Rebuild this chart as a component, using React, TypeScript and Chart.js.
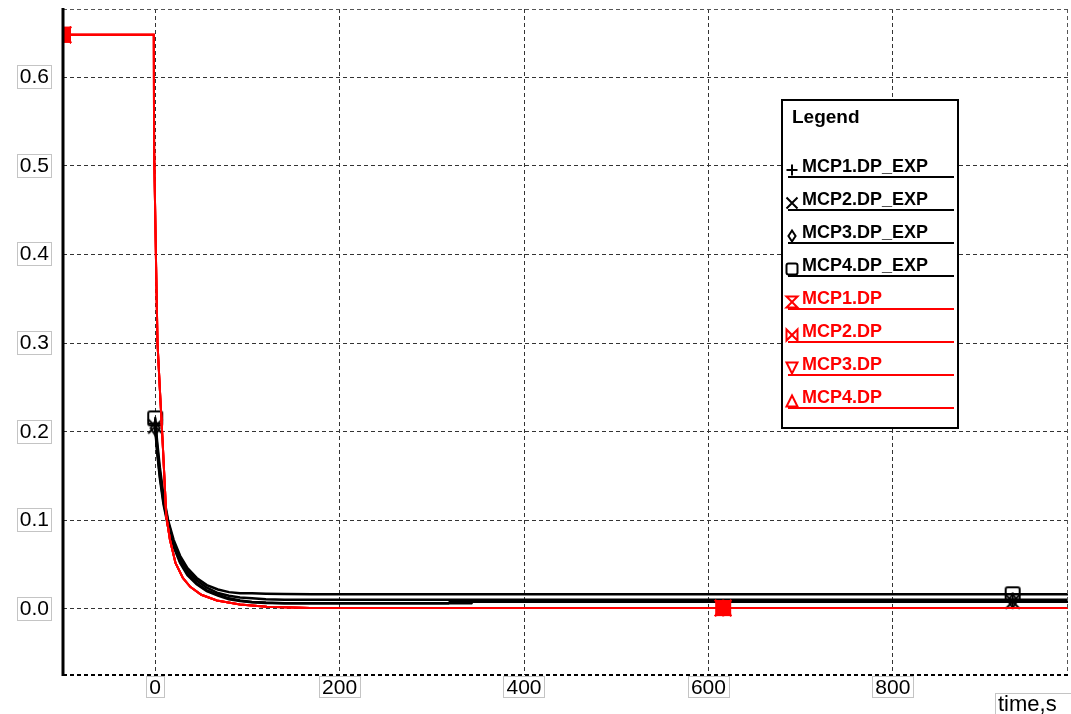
import React, { useEffect, useRef } from 'react';
import { Chart, registerables } from 'chart.js';

Chart.register(...registerables);

// ---------- data ----------
const xTickValues = [0, 200, 400, 600, 800];
const xTickLabels = ['0', '200', '400', '600', '800'];
const yTickValues = [0, 0.1, 0.2, 0.3, 0.4, 0.5, 0.6];
const yTickLabels = ['0.0', '0.1', '0.2', '0.3', '0.4', '0.5', '0.6'];
const xAxisTitle = 'time,s';
const legendTitle = 'Legend';

const seriesNames = [
  'MCP1.DP_EXP', 'MCP2.DP_EXP', 'MCP3.DP_EXP', 'MCP4.DP_EXP',
  'MCP1.DP', 'MCP2.DP', 'MCP3.DP', 'MCP4.DP',
];

const expTime = [0, 2, 5, 9, 14, 20, 27, 35, 45, 56, 68, 80, 92, 105, 120, 140, 170, 250, 318, 320, 343, 345, 583, 930, 990];
const mcp1DpExp = [0.209, 0.185, 0.155, 0.125, 0.098, 0.075, 0.057, 0.043, 0.032, 0.024, 0.018, 0.015, 0.013, 0.012, 0.011, 0.0105, 0.0105, 0.0105, 0.0105, 0.0105, 0.0105, 0.0105, 0.0105, 0.0105, 0.0105];
const mcp2DpExp = [0.206, 0.181, 0.151, 0.121, 0.095, 0.072, 0.054, 0.040, 0.029, 0.021, 0.016, 0.012, 0.0095, 0.008, 0.0072, 0.0066, 0.0064, 0.0064, 0.0064, 0.0082, 0.0082, 0.0082, 0.0082, 0.0082, 0.0082];
const mcp3DpExp = [0.204, 0.178, 0.148, 0.118, 0.093, 0.070, 0.052, 0.038, 0.028, 0.020, 0.015, 0.011, 0.009, 0.0075, 0.0068, 0.0064, 0.0064, 0.0064, 0.0064, 0.0064, 0.0064, 0.0092, 0.0092, 0.0092, 0.0092];
const mcp4DpExp = [0.215, 0.19, 0.16, 0.128, 0.1, 0.078, 0.06, 0.046, 0.035, 0.027, 0.022, 0.019, 0.0177, 0.0177, 0.0172, 0.0168, 0.0166, 0.0166, 0.0166, 0.0166, 0.0166, 0.0166, 0.0166, 0.0166, 0.0166];

const simTime = [-100, -1.5, -1.2, 1, 2.5, 5.5, 8, 12, 16, 22, 30, 38, 50, 67, 92, 121, 168, 616, 990];
const mcp1Dp = [0.648, 0.648, 0.52, 0.386, 0.30, 0.239, 0.19, 0.105, 0.078, 0.052, 0.035, 0.025, 0.016, 0.0095, 0.005, 0.0026, 0.001, 0.001, 0.001];
const mcp2Dp = [0.648, 0.648, 0.52, 0.386, 0.30, 0.239, 0.19, 0.105, 0.078, 0.052, 0.035, 0.025, 0.016, 0.0096, 0.005, 0.0026, 0.0011, 0.0011, 0.0011];
const mcp3Dp = [0.648, 0.648, 0.52, 0.386, 0.30, 0.239, 0.19, 0.105, 0.078, 0.052, 0.035, 0.025, 0.016, 0.0094, 0.005, 0.0025, 0.001, 0.001, 0.001];
const mcp4Dp = [0.648, 0.648, 0.52, 0.386, 0.30, 0.239, 0.19, 0.105, 0.078, 0.052, 0.035, 0.025, 0.016, 0.0095, 0.0051, 0.0026, 0.0012, 0.0012, 0.0012];

const expMarkerTimes = [0, 930];
const simMarkerTimes = [-100, 616];

// ---------- styles ----------
const FONT = '"Liberation Sans", Arial, sans-serif';
const seriesColors = ['#000000', '#000000', '#000000', '#000000', '#ff0000', '#ff0000', '#ff0000', '#ff0000'];
type Sym = 'plus' | 'cross' | 'diamond' | 'square' | 'hourglass' | 'bowtie' | 'triDown' | 'triUp';
const seriesSymbols: Sym[] = ['plus', 'cross', 'diamond', 'square', 'hourglass', 'bowtie', 'triDown', 'triUp'];

function drawSymbol(ctx: CanvasRenderingContext2D, sym: Sym, cx: number, cy: number, r: number, color: string, fill: boolean) {
  ctx.save();
  ctx.strokeStyle = color;
  ctx.fillStyle = color;
  ctx.lineWidth = 2;
  ctx.setLineDash([]);
  ctx.beginPath();
  let closedShape = true;
  switch (sym) {
    case 'plus':
      ctx.moveTo(cx - r, cy); ctx.lineTo(cx + r, cy);
      ctx.moveTo(cx, cy - r); ctx.lineTo(cx, cy + r);
      closedShape = false;
      break;
    case 'cross':
      ctx.moveTo(cx - r, cy - r); ctx.lineTo(cx + r, cy + r);
      ctx.moveTo(cx + r, cy - r); ctx.lineTo(cx - r, cy + r);
      closedShape = false;
      break;
    case 'diamond':
      ctx.moveTo(cx, cy - r); ctx.lineTo(cx + r * 0.65, cy); ctx.lineTo(cx, cy + r); ctx.lineTo(cx - r * 0.65, cy); ctx.closePath();
      break;
    case 'square':
      ctx.moveTo(cx - r + 2, cy - r); ctx.lineTo(cx + r - 2, cy - r); ctx.quadraticCurveTo(cx + r, cy - r, cx + r, cy - r + 2);
      ctx.lineTo(cx + r, cy + r - 2); ctx.quadraticCurveTo(cx + r, cy + r, cx + r - 2, cy + r);
      ctx.lineTo(cx - r + 2, cy + r); ctx.quadraticCurveTo(cx - r, cy + r, cx - r, cy + r - 2);
      ctx.lineTo(cx - r, cy - r + 2); ctx.quadraticCurveTo(cx - r, cy - r, cx - r + 2, cy - r);
      ctx.closePath();
      break;
    case 'hourglass':
      ctx.moveTo(cx - r, cy - r); ctx.lineTo(cx + r, cy - r); ctx.lineTo(cx - r, cy + r); ctx.lineTo(cx + r, cy + r); ctx.closePath();
      break;
    case 'bowtie':
      ctx.moveTo(cx - r, cy - r); ctx.lineTo(cx - r, cy + r); ctx.lineTo(cx + r, cy - r); ctx.lineTo(cx + r, cy + r); ctx.closePath();
      break;
    case 'triDown':
      ctx.moveTo(cx - r, cy - r); ctx.lineTo(cx + r, cy - r); ctx.lineTo(cx, cy + r); ctx.closePath();
      break;
    case 'triUp':
      ctx.moveTo(cx, cy - r); ctx.lineTo(cx + r, cy + r); ctx.lineTo(cx - r, cy + r); ctx.closePath();
      break;
  }
  if (fill && closedShape) ctx.fill();
  ctx.stroke();
  ctx.restore();
}

function makeMarker(sym: Sym, color: string, fill: boolean): HTMLCanvasElement {
  const c = document.createElement('canvas');
  c.width = 18;
  c.height = 18;
  const g = c.getContext('2d') as CanvasRenderingContext2D;
  drawSymbol(g, sym, 9, 9, 7, color, fill);
  return c;
}

const decorPlugin = {
  id: 'decor',
  afterDraw(chart: any) {
    const ctx: CanvasRenderingContext2D = chart.ctx;
    const a = chart.chartArea;
    ctx.save();

    // frame
    ctx.setLineDash([4, 3]);
    ctx.strokeStyle = '#555';
    ctx.lineWidth = 1;
    ctx.beginPath();
    ctx.moveTo(a.left, a.top + 0.5); ctx.lineTo(a.right, a.top + 0.5);
    ctx.moveTo(a.right - 0.5, a.top); ctx.lineTo(a.right - 0.5, a.bottom);
    ctx.stroke();
    ctx.strokeStyle = '#000';
    ctx.lineWidth = 2;
    ctx.beginPath();
    ctx.moveTo(a.left, a.bottom); ctx.lineTo(a.right, a.bottom);
    ctx.stroke();
    ctx.setLineDash([]);
    ctx.lineWidth = 3;
    ctx.beginPath();
    ctx.moveTo(a.left, a.top - 1); ctx.lineTo(a.left, a.bottom + 1);
    ctx.stroke();

    // tick label boxes
    ctx.font = `21px ${FONT}`;
    ctx.strokeStyle = '#c4c4c4';
    ctx.lineWidth = 1;
    const ys = chart.scales.y;
    yTickValues.forEach((v, i) => {
      const py = ys.getPixelForValue(v);
      const w = ctx.measureText(yTickLabels[i]).width;
      const right = a.left - 14;
      ctx.strokeRect(Math.round(right - w - 3) + 0.5, Math.round(py - 12) + 0.5, Math.round(w + 5), 23);
    });
    const xs = chart.scales.x;
    xTickValues.forEach((v, i) => {
      const px = xs.getPixelForValue(v);
      const w = ctx.measureText(xTickLabels[i]).width;
      ctx.strokeRect(Math.round(px - w / 2 - 3) + 0.5, a.bottom + 1.5, Math.round(w + 6), 21);
    });

    // axis title
    ctx.font = `22px ${FONT}`;
    ctx.fillStyle = '#000';
    ctx.textBaseline = 'alphabetic';
    ctx.textAlign = 'left';
    ctx.fillText(xAxisTitle, 998, 711);
    ctx.strokeRect(995.5, 693.5, 80, 26);

    // legend
    const lx = 782, ly = 100, lw = 176, lh = 328;
    ctx.fillStyle = '#fff';
    ctx.fillRect(lx, ly, lw, lh);
    ctx.strokeStyle = '#000';
    ctx.lineWidth = 2;
    ctx.strokeRect(lx, ly, lw, lh);
    ctx.fillStyle = '#000';
    ctx.font = `bold 19px ${FONT}`;
    ctx.textBaseline = 'middle';
    ctx.fillText(legendTitle, 792, 118);
    ctx.font = `bold 18px ${FONT}`;
    seriesNames.forEach((name, i) => {
      const cy = 167 + i * 33;
      const col = seriesColors[i];
      drawSymbol(ctx, seriesSymbols[i], 792, cy + 3, 5.5, col, false);
      ctx.fillStyle = col;
      ctx.fillText(name, 802, cy);
      ctx.strokeStyle = col;
      ctx.lineWidth = 2;
      ctx.beginPath();
      ctx.moveTo(788, cy + 10);
      ctx.lineTo(954, cy + 10);
      ctx.stroke();
    });
    ctx.restore();
  },
};

const zeroPad = (s: any) => {
  s.paddingTop = 0;
  s.paddingBottom = 0;
  s.paddingLeft = 0;
  s.paddingRight = 0;
};

export default function App() {
  const ref = useRef<HTMLCanvasElement | null>(null);

  useEffect(() => {
    if (!ref.current) return;
    const expSeries = [mcp1DpExp, mcp2DpExp, mcp3DpExp, mcp4DpExp];
    const simSeries = [mcp1Dp, mcp2Dp, mcp3Dp, mcp4Dp];

    const datasets: any[] = [];
    simSeries.forEach((vals, k) => {
      const i = k + 4;
      const marker = makeMarker(seriesSymbols[i], seriesColors[i], true);
      datasets.push({
        label: seriesNames[i],
        data: simTime.map((t, j) => ({ x: t, y: vals[j] })),
        borderColor: seriesColors[i],
        borderWidth: 2,
        pointStyle: marker,
        pointRadius: (c: any) => (c.raw && simMarkerTimes.includes(c.raw.x) ? 7 : 0),
        pointHoverRadius: 0,
        fill: false,
        tension: 0,
        clip: 0,
        order: 0,
      });
    });
    expSeries.forEach((vals, i) => {
      const marker = makeMarker(seriesSymbols[i], seriesColors[i], false);
      datasets.push({
        label: seriesNames[i],
        data: expTime.map((t, j) => ({ x: t, y: vals[j] })),
        borderColor: seriesColors[i],
        borderWidth: 2.5,
        pointStyle: marker,
        pointRadius: (c: any) => (c.raw && expMarkerTimes.includes(c.raw.x) ? 7 : 0),
        pointHoverRadius: 0,
        fill: false,
        tension: 0,
        clip: 0,
        order: 1,
      });
    });

    const chart = new Chart(ref.current, {
      type: 'line',
      data: { datasets },
      options: {
        animation: false,
        responsive: false,
        events: [],
        layout: { autoPadding: false, padding: { top: 9, right: 3, left: 0, bottom: 0 } },
        plugins: { legend: { display: false }, tooltip: { enabled: false }, title: { display: false } },
        scales: {
          x: {
            type: 'linear',
            min: -100,
            max: 990,
            afterBuildTicks: (s: any) => { s.ticks = xTickValues.map((v) => ({ value: v })); },
            afterFit: (s: any) => { s.height = 39; zeroPad(s); },
            ticks: {
              autoSkip: false,
              maxRotation: 0,
              padding: 1,
              color: '#000',
              font: { family: FONT, size: 21 },
              callback: (_v: any, idx: number) => xTickLabels[idx],
            },
            grid: { color: '#333', lineWidth: 1, drawTicks: false },
            border: { display: false, dash: [4, 3] },
          },
          y: {
            type: 'linear',
            min: -0.0745,
            max: 0.677,
            afterBuildTicks: (s: any) => { s.ticks = yTickValues.map((v) => ({ value: v })); },
            afterFit: (s: any) => { s.width = 63; zeroPad(s); },
            ticks: {
              autoSkip: false,
              padding: 14,
              color: '#000',
              font: { family: FONT, size: 21 },
              callback: (_v: any, idx: number) => yTickLabels[idx],
            },
            grid: { color: '#333', lineWidth: 1, drawTicks: false },
            border: { display: false, dash: [4, 3] },
          },
        },
      } as any,
      plugins: [decorPlugin],
    });
    return () => chart.destroy();
  }, []);

  return (
    <div style={{ position: 'fixed', left: 0, top: 0, width: 1071, height: 714, background: '#fff' }}>
      <canvas ref={ref} width={1071} height={714} style={{ display: 'block' }} />
    </div>
  );
}
